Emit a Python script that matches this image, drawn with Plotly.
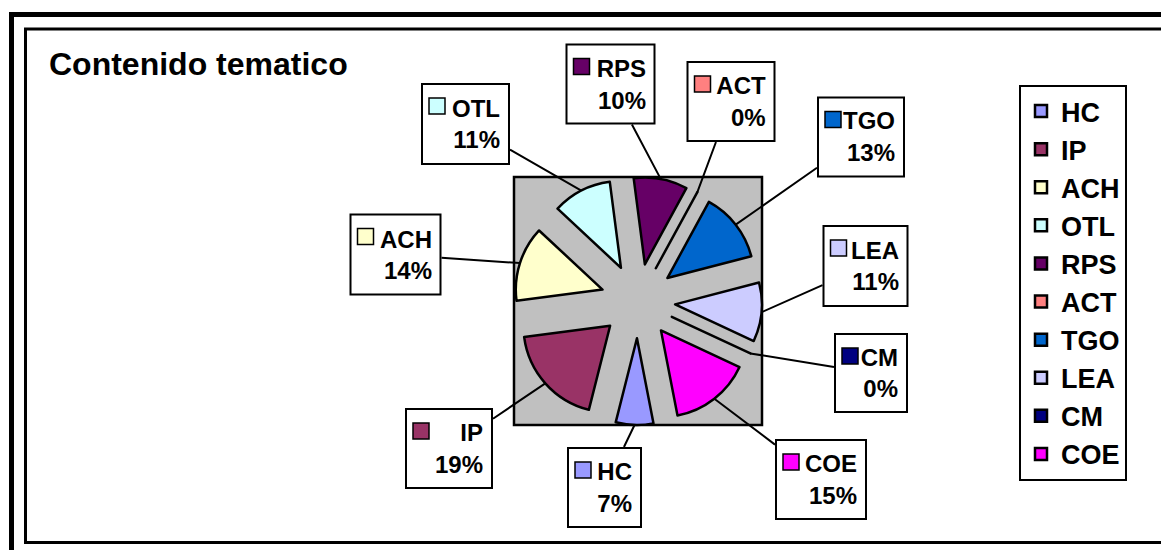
import math
import plotly.graph_objects as go

# page window and the 8px default body margin of the written page
W, H = 1169, 550
OFF = 8
FW, FH = W - OFF, H - OFF

# ---------------- data ----------------
labels = ["HC", "IP", "ACH", "OTL", "RPS", "ACT", "TGO", "LEA", "CM", "COE"]
values = [7, 19, 14, 11, 10, 0, 13, 11, 0, 15]
colors = ["#9999FF", "#993366", "#FFFFCC", "#CCFFFF", "#660066",
          "#FF8080", "#0066CC", "#CCCCFF", "#000080", "#FF00FF"]
chart_title = "Contenido tematico"

# ---------------- layout constants (page pixels) ----------------
FONT = "Liberation Sans, Arial, sans-serif"
ROTATION = 169
PULL = 0.43
PLOT_BOX = (514, 177, 762, 425)          # left, top, right, bottom
# label boxes: center x, center y, width, height
LABEL_BOXES = {
    "HC": (604.5, 487.5, 75, 81),
    "IP": (449, 448.5, 88, 81),
    "ACH": (395.5, 254.5, 92, 82),
    "OTL": (465.5, 124, 89, 82),
    "RPS": (610.5, 84, 90, 81),
    "ACT": (731, 101.5, 89, 81),
    "TGO": (861, 137, 88, 81),
    "LEA": (865.5, 266, 86, 82),
    "CM": (871, 373, 74, 80),
    "COE": (821, 479.5, 92, 81),
}
PAD = 10


def px(x):
    return (x - OFF) / FW


def py(y):
    return 1 - (y - OFF) / FH


fig = go.Figure()

fig.add_trace(go.Pie(
    labels=labels,
    values=values,
    sort=False,
    direction="clockwise",
    rotation=ROTATION,
    pull=[PULL] * len(values),
    marker=dict(colors=colors, line=dict(color="black", width=2.5)),
    textinfo="none",
    hoverinfo="label+percent",
    domain=dict(x=[px(PLOT_BOX[0]), px(PLOT_BOX[2])],
                y=[py(PLOT_BOX[3]), py(PLOT_BOX[1])]),
    showlegend=True,
))

# geometry of the pie (same rule plotly uses)
bw_ = PLOT_BOX[2] - PLOT_BOX[0]
bh_ = PLOT_BOX[3] - PLOT_BOX[1]
r = min(bw_, bh_) / (2 + 2 * PULL)
cx = (PLOT_BOX[0] + PLOT_BOX[2]) / 2
cy = (PLOT_BOX[1] + PLOT_BOX[3]) / 2
total = sum(values)

shapes = []
# outer thick frame and inner frame
shapes.append(dict(type="rect", xref="paper", yref="paper",
                   x0=px(11.5), y0=py(14.5), x1=px(W + 20), y1=py(H + 20),
                   line=dict(color="black", width=5)))
shapes.append(dict(type="rect", xref="paper", yref="paper",
                   x0=px(25.5), y0=py(29), x1=px(1165.5), y1=py(542.5),
                   line=dict(color="black", width=3)))
# gray plot area
shapes.append(dict(type="rect", xref="paper", yref="paper", layer="below",
                   x0=px(PLOT_BOX[0]), y0=py(PLOT_BOX[3]),
                   x1=px(PLOT_BOX[2]), y1=py(PLOT_BOX[1]),
                   fillcolor="#C0C0C0", line=dict(color="black", width=2.5)))

annotations = []
cum = 0
for lab, v, col in zip(labels, values, colors):
    mid = math.radians(ROTATION + 360 * (cum + v / 2) / total)
    cum += v
    dist = r * (1 + PULL)
    tx = cx + dist * math.sin(mid)
    ty = cy - dist * math.cos(mid)
    bx, by, bwid, bhei = LABEL_BOXES[lab]
    pct = round(100 * v / total)
    left, top = bx - bwid / 2, by - bhei / 2
    # label box (white, black border) and legend key square
    shapes.append(dict(type="rect", xref="paper", yref="paper",
                       x0=px(left + 1), x1=px(left + bwid - 1),
                       y0=py(top + bhei - 1), y1=py(top + 1),
                       fillcolor="white", line=dict(color="black", width=2)))
    shapes.append(dict(type="rect", xref="paper", yref="paper",
                       x0=px(left + 8), x1=px(left + 24),
                       y0=py(top + 31), y1=py(top + 15),
                       fillcolor=col, line=dict(color="black", width=1.5)))
    annotations.append(dict(
        x=px(tx), y=py(ty), xref="paper", yref="paper",
        ax=bx - tx, ay=by - ty,
        showarrow=True, arrowhead=0, arrowwidth=2, arrowcolor="black", standoff=0,
        text=f"{lab}<br>{pct}%",
        align="right", valign="middle",
        width=bwid - 2 * PAD, height=bhei - 2 * PAD,
        bgcolor="rgba(0,0,0,0)", borderwidth=0, borderpad=PAD,
        font=dict(family=FONT, size=24, color="black", weight="bold"),
    ))

annotations.append(dict(
    x=px(47), y=py(64), xref="paper", yref="paper",
    xanchor="left", yanchor="middle", showarrow=False,
    text=chart_title,
    font=dict(family=FONT, size=32, color="black", weight="bold"),
))

fig.update_layout(
    width=FW, height=FH,
    margin=dict(l=0, r=0, t=0, b=0),
    paper_bgcolor="white",
    plot_bgcolor="white",
    shapes=shapes,
    annotations=annotations,
    legend=dict(
        x=px(1019), y=py(85), xanchor="left", yanchor="top",
        bgcolor="white", bordercolor="black", borderwidth=2,
        font=dict(family=FONT, size=27, color="black", weight="bold"),
        traceorder="normal",
    ),
)

fig.write_html("out.html")
